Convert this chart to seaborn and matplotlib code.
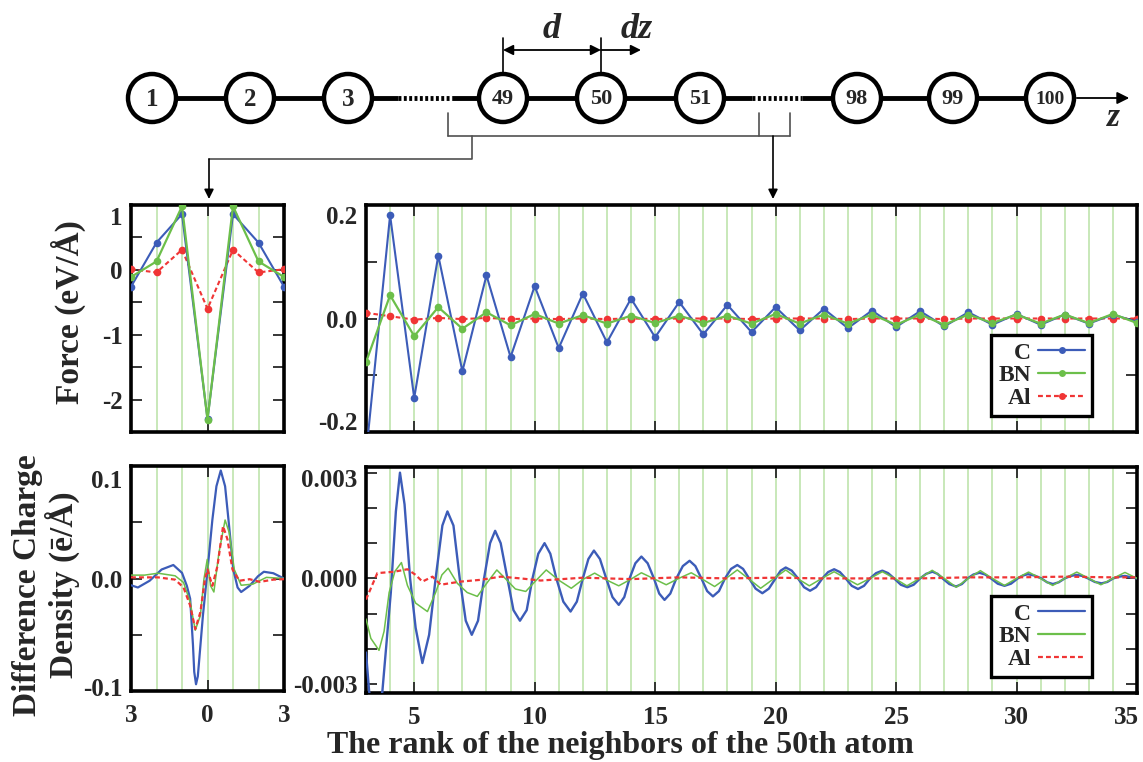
import matplotlib
matplotlib.use("Agg")
import matplotlib.pyplot as plt
import seaborn as sns
from matplotlib.ticker import FixedLocator, MultipleLocator
from matplotlib.lines import Line2D
from matplotlib.patches import Circle
from matplotlib.transforms import ScaledTranslation

# ---------------- data ----------------
# force, nearest neighbours (rank -3..3)
near_rank = [-3, -2, -1, 0, 1, 2, 3]
near_force_c = [-0.26, 0.42, 0.86, -2.30, 0.86, 0.42, -0.26]
near_force_bn = [-0.11, 0.13, 0.98, -2.31, 0.98, 0.13, -0.11]
near_force_al = [0.01, -0.04, 0.31, -0.60, 0.31, -0.04, 0.01]

# force, far neighbours (rank 3..35)
far_rank = list(range(3, 36))
far_force_c = [-0.24, 0.182, -0.140, 0.111, -0.093, 0.076, -0.068, 0.057, -0.052,
               0.044, -0.042, 0.035, -0.033, 0.029, -0.028, 0.024, -0.024, 0.020,
               -0.021, 0.017, -0.017, 0.014, -0.015, 0.013, -0.014, 0.011, -0.011,
               0.008, -0.011, 0.007, -0.009, 0.007, -0.006]
far_force_bn = [-0.077, 0.041, -0.031, 0.020, -0.018, 0.011, -0.012, 0.008, -0.009,
                0.006, -0.009, 0.005, -0.008, 0.005, -0.008, 0.005, -0.009, 0.008,
                -0.009, 0.007, -0.009, 0.007, -0.011, 0.007, -0.011, 0.007, -0.008,
                0.007, -0.009, 0.007, -0.008, 0.008, -0.008]
far_force_al = [0.010, 0.004, -0.002, 0.001, -0.001, 0.001, -0.001, 0.000, -0.001,
                0.000, -0.001, 0.000, -0.001, 0.000, 0.000, 0.000, -0.001, 0.000,
                0.000, 0.000, -0.001, 0.000, 0.000, 0.000, -0.001, 0.000, 0.000,
                0.000, 0.000, 0.000, 0.000, 0.000, 0.000]

# charge density, nearest neighbours
near_z_c = [-3.0, -2.73, -2.27, -1.8, -1.34, -1.0, -0.81, -0.68, -0.57, -0.52, -0.45,
            -0.38, -0.32, -0.18, -0.01, 0.19, 0.35, 0.52, 0.69, 0.85, 1.01, 1.18, 1.32,
            1.65, 1.98, 2.21, 2.58, 3.0]
near_rho_c = [-0.006, -0.008, -0.002, 0.008, 0.012, 0.005, -0.0065, -0.018, -0.059,
              -0.083, -0.094, -0.087, -0.071, -0.033, 0.005, 0.052, 0.082, 0.096, 0.082,
              0.046, 0.008, -0.008, -0.012, -0.0065, 0.002, 0.006, 0.0047, 0.0]
near_z_bn = [-3.0, -2.47, -1.94, -1.27, -0.94, -0.68, -0.48, -0.28, -0.14, -0.01,
             0.12, 0.25, 0.45, 0.69, 0.85, 1.05, 1.32, 1.78, 2.31, 3.0]
near_rho_bn = [0.003, 0.003, 0.0047, 0.0024, -0.0035, -0.021, -0.046, -0.033, -0.0006,
               0.017, -0.0065, -0.012, 0.023, 0.052, 0.041, 0.008, -0.006, -0.005,
               0.001, 0.0]
near_z_al = [-3.0, -1.94, -1.27, -0.94, -0.68, -0.48, -0.28, -0.1, 0.0, 0.19, 0.39,
             0.61, 0.78, 0.98, 1.25, 1.65, 2.05, 2.58, 3.0]
near_rho_al = [0.001, 0.001, -0.001, -0.008, -0.024, -0.045, -0.030, -0.0006, 0.008,
               -0.0065, 0.011, 0.0465, 0.035, 0.008, -0.002, -0.0006, -0.003, -0.001,
               -0.0006]

# charge density, far neighbours
far_z_c = [3.0, 3.13, 3.4, 3.68, 4.03, 4.24, 4.41, 4.6, 4.83, 5.06, 5.34, 5.62, 5.89,
           6.17, 6.38, 6.63, 6.89, 7.14, 7.39, 7.65, 7.9, 8.15, 8.36, 8.59, 8.87, 9.12,
           9.39, 9.67, 9.91,
           10.15, 10.41, 10.65, 10.9, 11.19, 11.49, 11.75, 12.0, 12.23, 12.46, 12.71,
           12.97, 13.23, 13.49, 13.72, 13.94, 14.18, 14.43, 14.69, 14.95, 15.17, 15.39,
           15.63, 15.88, 16.15, 16.43, 16.67, 16.92, 17.16, 17.4, 17.65, 17.9, 18.15,
           18.41, 18.65, 18.9, 19.17, 19.45, 19.72, 20.0, 20.21, 20.42, 20.67, 20.93,
           21.18, 21.43, 21.68, 21.94, 22.18, 22.43, 22.67, 22.91, 23.16, 23.42, 23.67,
           23.92, 24.17, 24.43, 24.67, 24.92, 25.2, 25.47, 25.73, 26.0, 26.25, 26.51,
           26.72, 26.93, 27.21, 27.49, 27.73, 27.97, 28.21, 28.46, 28.7, 28.94, 29.22,
           29.5, 29.77, 30.05, 30.26, 30.47, 30.75, 31.03, 31.27, 31.51, 31.75, 32.0,
           32.25, 32.49, 32.73, 32.97, 33.25, 33.53, 33.77, 34.01, 34.25, 34.5, 35.0]
far_rho_c = [-0.0021, -0.0032, -0.0045, -0.0032, -0.0004, 0.0019, 0.0030, 0.0021, 0.0,
             -0.0014, -0.0024, -0.0016, 0.0, 0.0015, 0.0019, 0.0015, 0.0, -0.0012,
             -0.0016, -0.0012, 0.0, 0.0010, 0.00135, 0.0010, 0.0, -0.0009, -0.0012,
             -0.0009, 0.0,
             0.0007, 0.0010, 0.0007, 0.0, -0.00066, -0.00094, -0.00066, 0.0, 0.00055,
             0.00079, 0.00055, 0.0, -0.00053, -0.00075, -0.00053, 0.0, 0.00043, 0.00062,
             0.00043, 0.0, -0.00043, -0.00061, -0.00043, 0.0, 0.00035, 0.0005, 0.00035,
             0.0, -0.00036, -0.00051, -0.00036, 0.0, 0.00027, 0.00038, 0.00027, 0.0,
             -0.00029, -0.00042, -0.00029, 0.0, 0.00022, 0.00031, 0.00022, 0.0,
             -0.00025, -0.00035, -0.00025, 0.0, 0.00018, 0.00026, 0.00018, 0.0,
             -0.00021, -0.0003, -0.00021, 0.0, 0.00015, 0.00022, 0.00015, 0.0,
             -0.00018, -0.00025, -0.00018, 0.0, 0.00013, 0.00019, 0.00013, 0.0,
             -0.00016, -0.00023, -0.00016, 0.0, 0.00011, 0.00016, 0.00011, 0.0,
             -0.00015, -0.00021, -0.00015, 0.0, 0.00008, 0.00012, 0.00008, 0.0,
             -0.00011, -0.00016, -0.00011, 0.0, 0.00007, 0.0001, 0.00007, 0.0,
             -0.0001, -0.00014, -0.0001, 0.0, 0.00005, 0.00007, 0.0]
far_z_bn = [3.0, 3.2, 3.54, 3.75, 3.96, 4.2, 4.47, 4.72, 5.06, 5.55, 5.89, 6.15, 6.41,
            6.79, 7.2, 7.62, 8.05, 8.43, 8.85, 9.2, 9.63, 10.0, 10.48, 11.0, 11.52, 12.0,
            12.49, 13.0, 13.49, 14.0, 14.43, 14.95, 15.46, 15.98, 16.5, 16.98, 17.47,
            17.94, 18.41, 18.9, 19.38, 19.9, 20.42, 20.9, 21.4, 21.92, 22.43, 22.92,
            23.4, 23.92, 24.43, 24.94, 25.45, 25.98, 26.5, 27.0, 27.5, 28.0, 28.5, 29.0,
            29.5, 30.0, 30.5, 31.0, 31.5, 32.0, 32.5, 33.0, 33.5, 34.0, 34.5, 35.0]
far_rho_bn = [-0.00115, -0.0017, -0.00204, -0.0015, -0.0004, 0.0002, 0.00045, -0.0002,
              -0.0007, -0.00094, -0.0004, 0.0001, 0.00029, -0.00014, -0.0004, -0.00051,
              -0.0001, 0.00024, -0.00005, -0.0003, -0.00037, -0.0001, 0.00024, -0.00005,
              -0.00028, -0.00003, 0.00015, -0.00005, -0.00021, -0.00002, 0.00016,
              -0.00001, -0.00018, 0.0, 0.00016, -0.00003, -0.00023, 0.0, 0.00024,
              -0.00002, -0.00028, -0.00002, 0.00024, 0.0, -0.00021, 0.0, 0.00019, 0.0,
              -0.00018, 0.0, 0.00019, 0.0, -0.00021, 0.0, 0.00023, 0.0, -0.00025, 0.0,
              0.00022, 0.0, -0.0002, 0.0, 0.00018, 0.0, -0.0002, 0.0, 0.00018, 0.0,
              -0.00018, 0.0, 0.00017, 0.0]
far_z_al = [3.0, 3.47, 4.17, 4.72, 5.06, 5.34, 5.76, 6.1, 6.45, 6.93, 7.76, 8.59, 9.42,
            10.25, 12.0, 14.0, 16.0, 18.0, 20.0, 22.0, 24.0, 26.0, 28.0, 30.0, 32.0,
            34.0, 35.0]
far_rho_al = [-0.0006, 0.00015, 0.00019, 0.00026, 0.0001, -0.00009, 0.00005, -0.00018,
              -0.00014, -0.00009, -0.00004, 0.00005, 0.0, -0.00006, 0.00002, -0.00002,
              0.00003, 0.0, 0.00002, 0.0, 0.0, 0.0, 0.00003, 0.00003, 0.00005, 0.00003,
              0.00003]

# schematic chain
atom_labels = ['1', '2', '3', '49', '50', '51', '98', '99', '100']
atom_x = [152, 250, 348, 503, 601, 700, 857, 953, 1050]

series_names = ['C', 'BN', 'Al']
series_colors = ['#3c5cb8', '#6cbf4a', '#f03535']

# ---------------- style ----------------
sns.set_style("white")
plt.rcParams['font.family'] = ['Liberation Serif', 'DejaVu Serif']
plt.rcParams['font.weight'] = 'bold'
plt.rcParams['axes.unicode_minus'] = False

W, H = 1143, 762
fig = plt.figure(figsize=(W / 100, H / 100), dpi=100)

def frac(x0, y0, x1, y1):
    return [x0 / W, 1 - y1 / H, (x1 - x0) / W, (y1 - y0) / H]

ax_fl = fig.add_axes(frac(131, 205, 284, 432))
ax_fr = fig.add_axes(frac(366, 205, 1137, 432))
ax_cl = fig.add_axes(frac(131, 466, 284, 691))
ax_cr = fig.add_axes(frac(366, 467, 1137, 693))

grid_green = '#b9e2a6'
dash_al = (0, (2.2, 1.4))


def style_axes(ax, xlim, ylim, xmaj, ymaj, ylabels, ymin_step, xlabels=None):
    ax.set_xlim(*xlim)
    ax.set_ylim(*ylim)
    for s in ax.spines.values():
        s.set_linewidth(2.6)
        s.set_color('black')
    ax.xaxis.set_major_locator(FixedLocator(xmaj))
    ax.xaxis.set_minor_locator(MultipleLocator(1))
    ax.yaxis.set_major_locator(FixedLocator(ymaj))
    ax.yaxis.set_minor_locator(MultipleLocator(ymin_step))
    ax.set_yticklabels(ylabels)
    if xlabels is None:
        ax.set_xticklabels([])
    else:
        ax.set_xticklabels(xlabels)
    ax.tick_params(which='both', direction='in', top=True, right=True, bottom=True,
                   left=True, width=1.3, length=8, labelsize=18, pad=6)
    ax.tick_params(axis='x', which='minor', length=0)
    ax.set_axisbelow(True)
    ax.grid(True, which='both', axis='x', color=grid_green, lw=1.1)
    ax.grid(False, axis='y')
    ax.set_xlabel('')
    ax.set_ylabel('')


def draw(ax, x, y, color, lw, ls='-', marker=None):
    sns.lineplot(x=x, y=y, ax=ax, color=color, lw=lw, linestyle=ls, marker=marker,
                 markersize=5.5, markeredgewidth=0, estimator=None, sort=False,
                 zorder=3)


def shift_label(lbl, dx, dy):
    lbl.set_transform(lbl.get_transform() +
                      ScaledTranslation(dx / 100, dy / 100, fig.dpi_scale_trans))


# force panels
draw(ax_fl, near_rank, near_force_al, series_colors[2], 1.5, dash_al, 'o')
draw(ax_fl, near_rank, near_force_c, series_colors[0], 1.5, '-', 'o')
draw(ax_fl, near_rank, near_force_bn, series_colors[1], 1.6, '-', 'o')

draw(ax_fr, far_rank, far_force_al, series_colors[2], 1.5, dash_al, 'o')
draw(ax_fr, far_rank, far_force_c, series_colors[0], 1.5, '-', 'o')
draw(ax_fr, far_rank, far_force_bn, series_colors[1], 1.6, '-', 'o')

# charge panels
draw(ax_cl, near_z_c, near_rho_c, series_colors[0], 1.6)
draw(ax_cl, near_z_bn, near_rho_bn, series_colors[1], 1.1)
draw(ax_cl, near_z_al, near_rho_al, series_colors[2], 1.6, dash_al)

draw(ax_cr, far_z_c, far_rho_c, series_colors[0], 1.7)
draw(ax_cr, far_z_bn, far_rho_bn, series_colors[1], 1.1)
draw(ax_cr, far_z_al, far_rho_al, series_colors[2], 1.6, dash_al)

style_axes(ax_fl, (-3, 3), (-2.5, 1.0), [-3, 0, 3], [-2, -1, 0, 1],
           ['-2', '-1', '0', '1'], 0.5)
style_axes(ax_fr, (3, 35), (-0.2, 0.2), [5, 10, 15, 20, 25, 30, 35], [-0.2, 0.0, 0.2],
           ['-0.2', '0.0', '0.2'], 0.1)
style_axes(ax_cl, (-3, 3), (-0.1, 0.1), [-3, 0, 3], [-0.1, 0.0, 0.1],
           ['-0.1', '0.0', '0.1'], 0.05, xlabels=['3', '0', '3'])
style_axes(ax_cr, (3, 35), (-0.00325, 0.00316), [5, 10, 15, 20, 25, 30, 35],
           [-0.003, 0.0, 0.003], ['-0.003', '0.000', '0.003'], 0.001,
           xlabels=['5', '10', '15', '20', '25', '30', '35'])
ax_cl.tick_params(axis='x', pad=9)
ax_cr.tick_params(axis='x', pad=9)


def add_legend(ax, with_markers):
    # text first, handle after; rows are right-aligned so the names line up on the right
    handles = []
    for name, col in zip(series_names, series_colors):
        ls = dash_al if name == 'Al' else '-'
        handles.append(Line2D([0], [0], color=col, lw=1.6, linestyle=ls,
                              marker='o' if with_markers else None, markersize=5,
                              markeredgewidth=0))
    leg = ax.legend(handles, series_names, loc='lower right',
                    bbox_to_anchor=(0.942, 0.07), borderaxespad=0, markerfirst=False,
                    frameon=True, fancybox=False, handlelength=2.0,
                    handletextpad=0.3, labelspacing=0.05, borderpad=0.3,
                    prop={'weight': 'bold', 'size': 17})
    leg.get_frame().set_edgecolor('black')
    leg.get_frame().set_linewidth(2.4)
    leg.get_frame().set_alpha(1)


add_legend(ax_fr, True)
add_legend(ax_cr, False)

# edge tick labels pulled inside, as in the original
shift_label(ax_fl.yaxis.get_major_ticks()[3].label1, 0, -11)
shift_label(ax_fr.yaxis.get_major_ticks()[2].label1, 0, -10)
shift_label(ax_fr.yaxis.get_major_ticks()[0].label1, 0, 11)
shift_label(ax_cl.yaxis.get_major_ticks()[2].label1, 0, -13)
shift_label(ax_cl.yaxis.get_major_ticks()[0].label1, 0, 4)
shift_label(ax_cr.yaxis.get_major_ticks()[2].label1, 0, -5)
shift_label(ax_cr.xaxis.get_major_ticks()[6].label1, -11, 0)

# axis titles
fig.text(68 / W, 1 - 312 / H, 'Force (eV/Å)', rotation=90, ha='center', va='center',
         fontsize=24, fontweight='bold')
fig.text(46 / W, 1 - 585 / H, 'Difference Charge\nDensity (ē/Å)', rotation=90,
         ha='center', va='center', fontsize=24, fontweight='bold',
         multialignment='center', linespacing=1.05)
fig.text(620 / W, 1 - 745 / H, 'The rank of the neighbors of the 50th atom',
         ha='center', va='center', fontsize=23, fontweight='bold')

# ---------------- schematic of the chain ----------------
ov = fig.add_axes([0, 0, 1, 1], facecolor='none')
ov.set_xlim(0, W)
ov.set_ylim(H, 0)
ov.axis('off')

cy, r = 98, 24
for xs, xe in [(atom_x[0], 398), (452, 752), (802, atom_x[-1])]:
    ov.plot([xs, xe], [cy, cy], color='black', lw=3.5, solid_capstyle='butt')
for xs, xe in [(398, 452), (752, 802)]:
    ov.plot([xs, xe], [cy, cy], color='black', lw=3.5, linestyle=(0, (0.6, 0.5)))
for lab, x in zip(atom_labels, atom_x):
    ov.add_patch(Circle((x, cy), r, facecolor='white', edgecolor='black', lw=3.2,
                        zorder=4))
    size = 18 if len(lab) == 1 else (16 if len(lab) == 2 else 14)
    ov.text(x, cy + 1, lab, ha='center', va='center', fontsize=size, fontweight='bold',
            zorder=5)
ov.annotate('', xy=(1132, cy), xytext=(atom_x[-1] + r, cy),
            arrowprops=dict(arrowstyle='-|>', color='black', lw=1.3, mutation_scale=18))
ov.text(1113, 118, 'z', ha='center', va='center', fontsize=24, style='italic',
        fontweight='bold')

# d and dz markers
for x in (atom_x[3], atom_x[4]):
    ov.plot([x, x], [cy - r, 38], color='black', lw=1.2)
ov.annotate('', xy=(atom_x[3], 50), xytext=(atom_x[4], 50),
            arrowprops=dict(arrowstyle='<|-|>', color='black', lw=1.3, mutation_scale=15,
                            shrinkA=0, shrinkB=0))
ov.annotate('', xy=(641, 50), xytext=(atom_x[4], 50),
            arrowprops=dict(arrowstyle='-|>', color='black', lw=1.3, mutation_scale=15,
                            shrinkA=0, shrinkB=0))
ov.text(552, 30, 'd', ha='center', va='center', fontsize=26, style='italic',
        fontweight='bold')
ov.text(637, 30, 'dz', ha='center', va='center', fontsize=26, style='italic',
        fontweight='bold')

# bracket and pointer arrows
gray = '#505050'
for x in (448, 759, 790):
    ov.plot([x, x], [113, 136], color=gray, lw=1.2)
ov.plot([448, 790], [136, 136], color=gray, lw=1.2)
ov.plot([472, 472, 209], [136, 159, 159], color=gray, lw=1.2)
ov.annotate('', xy=(209, 199), xytext=(209, 159),
            arrowprops=dict(arrowstyle='-|>', color='black', lw=1.2, mutation_scale=14,
                            shrinkA=0, shrinkB=0))
ov.annotate('', xy=(773, 199), xytext=(773, 136),
            arrowprops=dict(arrowstyle='-|>', color='black', lw=1.2, mutation_scale=14,
                            shrinkA=0, shrinkB=0))

fig.savefig('out.png', dpi=100)
